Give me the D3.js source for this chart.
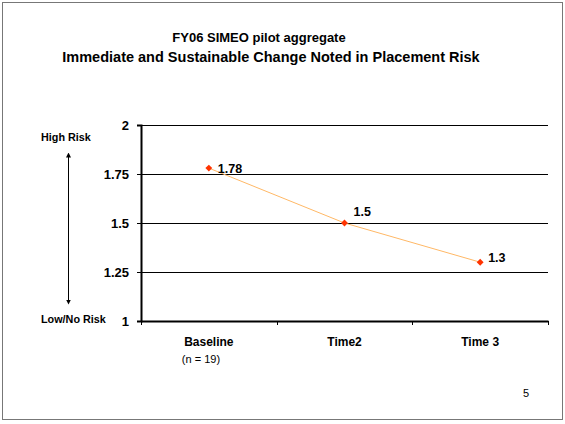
<!DOCTYPE html>
<meta charset="utf-8">
<style>
body{margin:0;background:#fff;font-family:Arial,"Liberation Sans",sans-serif;}
</style>
<body>
<div id="chart"></div>
<script src="https://d3js.org/d3.v7.min.js"></script>
<script>

var width = 565,
    height = 424;

// data
var categories = ["Baseline", "Time2", "Time 3"];
var values = [1.78, 1.5, 1.3];
var yTicks = [1, 1.25, 1.5, 1.75, 2];
var yTickLabels = ["1", "1.25", "1.5", "1.75", "2"];
// label nudges (dx, dy) as Excel placed them
var labelNudge = [[9, 5], [9, -7], [8, 0]];

var svg = d3.select("#chart").append("svg")
    .attr("width", width)
    .attr("height", height);

// slide frame
svg.append("rect")
    .attr("x", 2.5).attr("y", 2.5)
    .attr("width", 560).attr("height", 417)
    .style("fill", "none")
    .style("stroke", "#777");

svg.append("text")
    .attr("x", 259).attr("y", 42)
    .attr("text-anchor", "middle")
    .style("font-size", "13px").style("font-weight", "bold")
    .text("FY06 SIMEO pilot aggregate");

svg.append("text")
    .attr("x", 271).attr("y", 62)
    .attr("text-anchor", "middle")
    .style("font-size", "14.5px").style("font-weight", "bold")
    .text("Immediate and Sustainable Change Noted in Placement Risk");

var pLeft = 141, pRight = 548, pTop = 125, pBottom = 321;

var x = d3.scaleBand()
    .domain(categories)
    .range([pLeft, pRight]);

var y = d3.scaleLinear()
    .domain([1, 2])
    .range([pBottom, pTop]);

// gridlines
svg.append("g").selectAll("line")
  .data(yTicks.slice(1))
  .enter().append("line")
    .attr("x1", pLeft - 4).attr("x2", pRight)
    .attr("y1", function(d) { return Math.round(y(d)) + 0.5; })
    .attr("y2", function(d) { return Math.round(y(d)) + 0.5; })
    .style("stroke", "#000")
    .style("stroke-width", 1);

// y axis
var yAxis = svg.append("g")
    .attr("transform", "translate(" + pLeft + ",0)")
    .call(d3.axisLeft(y).tickValues(yTicks)
      .tickFormat(function(d, i) { return yTickLabels[i]; })
      .tickSize(4).tickPadding(8));
yAxis.select(".domain").style("stroke-width", 2);
yAxis.selectAll("line").style("stroke-width", 1);
yAxis.selectAll("text")
    .style("font-family", "Arial, 'Liberation Sans', sans-serif")
    .style("font-size", "13px").style("font-weight", "bold")
    .style("fill", "#000");

// x axis
var xAxis = svg.append("g")
    .attr("transform", "translate(0," + pBottom + ")")
    .call(d3.axisBottom(x).tickSize(0).tickFormat(""));
xAxis.select(".domain").style("stroke-width", 2);

// category boundary ticks
var bounds = categories.map(function(c) { return x(c); }).concat([x(categories[2]) + x.bandwidth()]);
svg.append("g").selectAll("line")
  .data(bounds)
  .enter().append("line")
    .attr("x1", function(d) { return Math.round(d) + 0.5; })
    .attr("x2", function(d) { return Math.round(d) + 0.5; })
    .attr("y1", pBottom).attr("y2", pBottom + 4)
    .style("stroke", "#000")
    .style("stroke-width", 1);

svg.append("g").selectAll("text")
  .data(categories)
  .enter().append("text")
    .attr("x", function(d) { return x(d) + x.bandwidth() / 2; })
    .attr("y", 346)
    .attr("text-anchor", "middle")
    .style("font-size", "12px").style("font-weight", "bold")
    .text(function(d) { return d; });

svg.append("text")
    .attr("x", x("Baseline") + x.bandwidth() / 2 - 27)
    .attr("y", 363)
    .style("font-size", "11px")
    .text("(n = 19)");

// line
var line = d3.line()
    .x(function(d, i) { return x(categories[i]) + x.bandwidth() / 2; })
    .y(function(d) { return y(d); });

svg.append("path")
    .datum(values)
    .attr("d", line)
    .style("fill", "none")
    .style("stroke", "#FFB866")
    .style("stroke-width", 1);

svg.append("g").selectAll("path")
  .data(values)
  .enter().append("path")
    .attr("d", d3.symbol().type(d3.symbolDiamond2).size(30))
    .attr("transform", function(d, i) {
      return "translate(" + (x(categories[i]) + x.bandwidth() / 2) + "," + y(d) + ")";
    })
    .style("fill", "#FF3300");

svg.append("g").selectAll("text")
  .data(values)
  .enter().append("text")
    .attr("x", function(d, i) { return x(categories[i]) + x.bandwidth() / 2 + labelNudge[i][0]; })
    .attr("y", function(d, i) { return y(d) + labelNudge[i][1]; })
    .style("font-size", "12.5px").style("font-weight", "bold")
    .text(function(d) { return d; });

// risk arrow
svg.append("defs").append("marker")
    .attr("id", "ah")
    .attr("viewBox", "0 0 10 10")
    .attr("refX", 5).attr("refY", 5)
    .attr("markerWidth", 5).attr("markerHeight", 6)
    .attr("orient", "auto-start-reverse")
  .append("path")
    .attr("d", "M0,0L10,5L0,10z")
    .style("fill", "#000");

svg.append("line")
    .attr("x1", 68.5).attr("x2", 68.5)
    .attr("y1", 155).attr("y2", 302)
    .style("stroke", "#000")
    .style("stroke-width", 1)
    .attr("marker-start", "url(#ah)")
    .attr("marker-end", "url(#ah)");

svg.append("text")
    .attr("x", 41).attr("y", 141)
    .style("font-size", "10.8px").style("font-weight", "bold")
    .text("High Risk");

svg.append("text")
    .attr("x", 41).attr("y", 323)
    .style("font-size", "10.8px").style("font-weight", "bold")
    .text("Low/No Risk");

svg.append("text")
    .attr("x", 523).attr("y", 397)
    .style("font-size", "11px")
    .text("5");

</script>
</body>
</html>
